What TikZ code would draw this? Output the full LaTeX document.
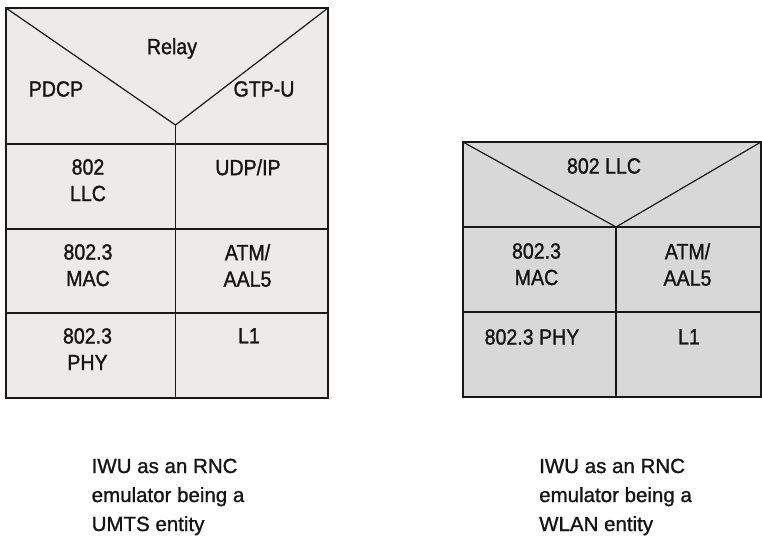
\documentclass[tikz,border=0pt]{standalone}
\usepackage{fontspec}
\setmainfont{Liberation Sans}[RawFeature={embolden=1.0}]
\newfontfamily\cellfont{Liberation Sans}[FakeStretch=0.89,RawFeature={embolden=1.2}]
\definecolor{umtsfill}{RGB}{236,235,234}
\definecolor{wlanfill}{RGB}{217,216,216}
\definecolor{linecol}{RGB}{24,24,24}
\definecolor{textcol}{RGB}{20,20,20}

\begin{document}
\begin{tikzpicture}[x=1pt,y=-1pt,
  stackline/.style={draw=linecol, line width=1.2pt, line join=miter},
  cell/.style={font=\cellfont\fontsize{22}{26.5}\selectfont, align=center,
               inner sep=0pt, anchor=north, text=textcol},
  caption/.style={font=\fontsize{20.5}{29}\selectfont, align=left,
                  inner sep=0pt, anchor=north west, text=textcol}]

\useasboundingbox (0,0) rectangle (762,536);

% ---------- UMTS side protocol stack ----------
\coordinate (u-nw) at (6,8);
\coordinate (u-ne) at (328,8);
\coordinate (u-sw) at (6,398);
\coordinate (u-se) at (328,398);
\coordinate (u-apex) at (175.5,125);
\coordinate (u-mid) at (175.5,398);

\fill[umtsfill] (u-nw) rectangle (u-se);
\draw[stackline] (u-nw) rectangle (u-se);
\draw[stackline] (u-nw) -- (u-apex) -- (u-ne);
\draw[stackline] (u-apex) -- (u-mid);
\foreach \yy in {144,229,313}
  \draw[stackline] (6,\yy) -- (328,\yy);

\node[cell] (relay) at (172,38)   {Relay};
\node[cell] (pdcp)  at (56,81)    {PDCP};
\node[cell] (gtpu)  at (264,81)   {GTP-U};
\node[cell] (llc)   at (88,159)   {802\\LLC};
\node[cell] (udpip) at (248,159)  {UDP/IP};
\node[cell] (mac)   at (88,244)   {802.3\\MAC};
\node[cell] (atm)   at (247.5,244){ATM/\\AAL5};
\node[cell] (phy)   at (87.5,328) {802.3\\PHY};
\node[cell] (lone)  at (249,328)  {L1};

% ---------- WLAN side protocol stack ----------
\coordinate (w-nw) at (463,142);
\coordinate (w-ne) at (761,142);
\coordinate (w-sw) at (463,397);
\coordinate (w-se) at (761,397);
\coordinate (w-apex) at (616,227);
\coordinate (w-mid) at (616,397);

\fill[wlanfill] (w-nw) rectangle (w-se);
\draw[stackline] (w-nw) rectangle (w-se);
\draw[stackline] (w-nw) -- (w-apex) -- (w-ne);
\draw[stackline] (w-apex) -- (w-mid);
\foreach \yy in {227,312}
  \draw[stackline] (463,\yy) -- (761,\yy);

\node[cell] (wllc)  at (604,158)   {802 LLC};
\node[cell] (wmac)  at (536.5,243) {802.3\\MAC};
\node[cell] (watm)  at (687.5,243) {ATM/\\AAL5};
\node[cell] (wphy)  at (532,329)   {802.3 PHY};
\node[cell] (wlone) at (689,329)   {L1};

% ---------- captions ----------
\node[caption] (umtscap) at (91.5,458.5) {IWU as an RNC\\emulator being a\\UMTS entity};
\node[caption] (wlancap) at (539,458.5)  {IWU as an RNC\\emulator being a\\WLAN entity};

\end{tikzpicture}
\end{document}
